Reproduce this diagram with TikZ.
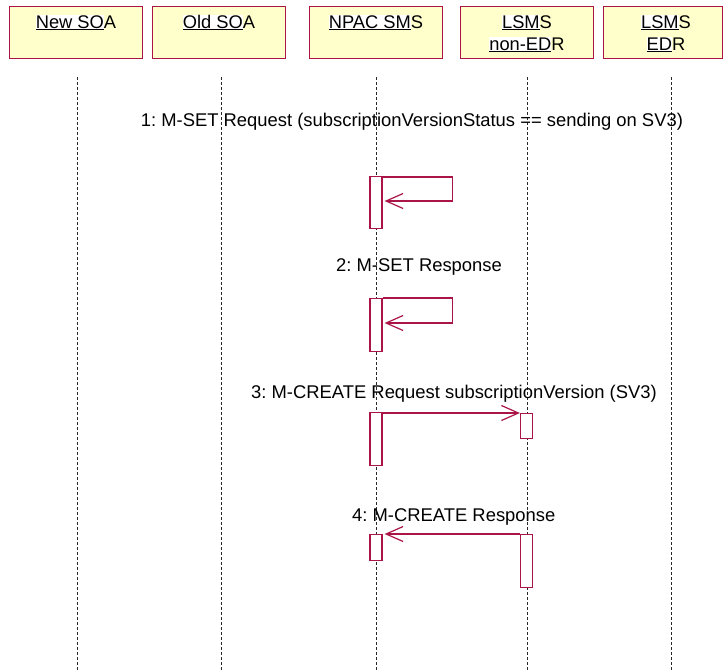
\documentclass[tikz,border=0pt]{standalone}
\usepackage{fontspec}
\setmainfont{Liberation Sans}
\usetikzlibrary{arrows.meta,calc}
\definecolor{frame}{RGB}{170,20,70}
\definecolor{boxfill}{RGB}{255,255,204}
\definecolor{lifec}{RGB}{40,40,40}
\newcommand{\hlu}[1]{{\setlength{\fboxsep}{0pt}\colorbox{white}{\underline{#1}}}}
\frenchspacing
\tikzset{
  head/.style={draw=frame, fill=boxfill, line width=1.4pt, minimum width=133pt, minimum height=52pt, inner sep=0pt, anchor=north west},
  htext/.style={anchor=base, inner sep=0pt, font=\fontsize{18.3}{22}\selectfont},
  life/.style={draw=lifec, line width=0.8pt, dash pattern=on 3pt off 2pt},
  act/.style={draw=frame, fill=white, line width=1.2pt, minimum width=12pt, inner sep=0pt, anchor=north},
  msg/.style={draw=frame, line width=1.2pt, -{Straight Barb[length=17pt,width=15pt,line width=1.2pt]}},
  mtext/.style={anchor=base west, inner sep=0pt, font=\fontsize{18.4}{22}\selectfont}
}
\begin{document}
\begin{tikzpicture}[x=1pt,y=-1pt]
\useasboundingbox (0,0) rectangle (723,670);
% header boxes
\node[head] (hNew) at (9,6) {};
\node[head] (hOld) at (152,6) {};
\node[head] (hNpac) at (309,6) {};
\node[head] (hLnon) at (460,6) {};
\node[head, minimum width=119pt] (hLedr) at (603,6) {};
\node[htext] (tNew) at (76,28) {\hlu{New SO}A};
\node[htext] (tOld) at (219,28) {\hlu{Old SO}A};
\node[htext] (tNpac) at (376,28) {\hlu{NPAC SM}S};
\node[htext] (tLnon1) at (527,28) {\hlu{LSM}S};
\node[htext] (tLnon2) at (527,50) {\hlu{non-ED}R};
\node[htext] (tLedr1) at (666,28) {\hlu{LSM}S};
\node[htext] (tLedr2) at (666,50) {\hlu{ED}R};
% lifelines
\coordinate (lNewT) at (77,77);   \coordinate (lNewB) at (77,670);
\coordinate (lOldT) at (221.5,77); \coordinate (lOldB) at (221.5,670);
\coordinate (lNpacT) at (376.5,77); \coordinate (lNpacB) at (376.5,670);
\coordinate (lLnonT) at (527.5,77); \coordinate (lLnonB) at (527.5,670);
\coordinate (lLedrT) at (671,77); \coordinate (lLedrB) at (671,670);
\draw[life] (lNewT) -- (lNewB);
\draw[life] (lOldT) -- (lOldB);
\draw[life] (lNpacT) -- (lNpacB);
\draw[life] (lLnonT) -- (lLnonB);
\draw[life] (lLedrT) -- (lLedrB);
% message 1
\node[mtext] (m1) at (140.7,126) {1: M-SET Request (subscriptionVersionStatus == sending on SV3)};
\node[act, minimum height=52pt] (a1) at (376,176) {};
\draw[msg] ($(a1.north east)+(0,1)$) -- ++(70,0) -- ++(0,24) -- ($(a1.north east)+(2,25)$);
% message 2
\node[mtext] (m2) at (336,271) {2: M-SET Response};
\node[act, minimum height=53pt] (a2) at (376,298) {};
\draw[msg] ($(a2.north east)+(0,0)$) -- ++(70,0) -- ++(0,25) -- ($(a2.north east)+(2,25)$);
% message 3
\node[mtext] (m3) at (251,398.5) {3: M-CREATE Request subscriptionVersion (SV3)};
\node[act, minimum height=53pt] (a3n) at (376,412) {};
\node[act, minimum height=25pt] (a3l) at (526.5,413) {};
\draw[msg] ($(a3n.north east)+(0,1)$) -- (a3l.north west);
% message 4
\node[mtext] (m4) at (352,521) {4: M-CREATE Response};
\node[act, minimum height=26pt] (a4n) at (376,534) {};
\node[act, minimum height=53pt] (a4l) at (526.5,534) {};
\draw[msg] (a4l.north west) -- ($(a4n.north east)+(2,0)$);
\end{tikzpicture}
\end{document}
